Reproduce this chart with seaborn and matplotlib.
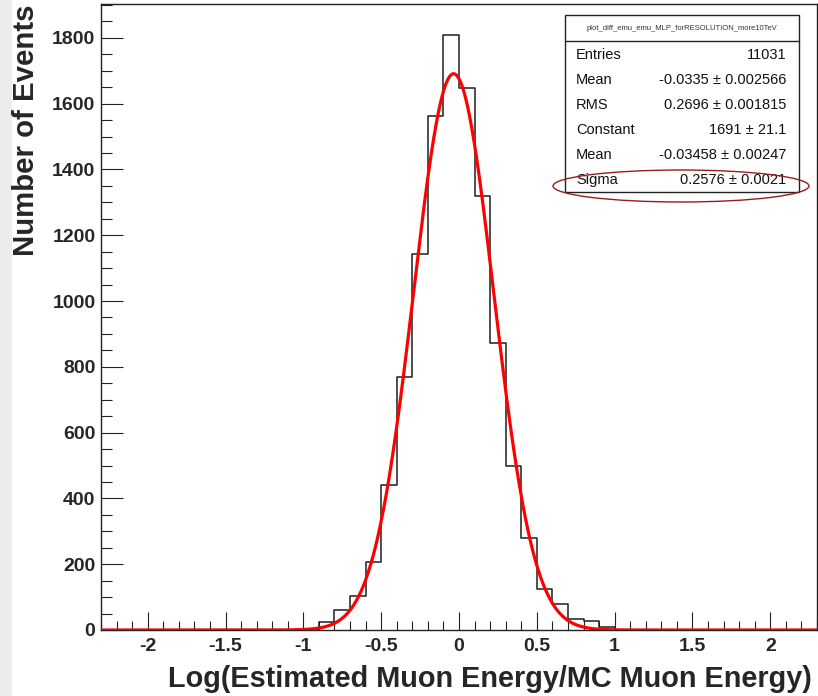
import numpy as np
import pandas as pd
import seaborn as sns
import matplotlib
matplotlib.use("Agg")
import matplotlib.pyplot as plt
from matplotlib.patches import Rectangle, Ellipse
from matplotlib.lines import Line2D
from matplotlib.ticker import MultipleLocator

# ---- histogram contents -------------------------------------------------
x_min, x_max = -2.3, 2.3
bin_width = 0.1
first_filled_edge = -1.0
counts = [4, 23, 61, 104, 207, 440, 770, 1142, 1562, 1810,
          1649, 1319, 873, 500, 280, 124, 79, 33, 28, 10]

# ---- Gaussian fit parameters -------------------------------------------
fit_constant = 1691.0
fit_mean = -0.03458
fit_sigma = 0.2576

# ---- statistics box -----------------------------------------------------
stats_title = "plot_diff_emu_emu_MLP_forRESOLUTION_more10TeV"
stats_names = ["Entries", "Mean", "RMS", "Constant", "Mean", "Sigma"]
stats_values = ["11031", "-0.0335 \u00b1 0.002566", "0.2696 \u00b1 0.001815",
                "1691 \u00b1 21.1", "-0.03458 \u00b1 0.00247", "0.2576 \u00b1 0.0021"]

# ---- axis ticks / labels ------------------------------------------------
x_ticks = [-2, -1.5, -1, -0.5, 0, 0.5, 1, 1.5, 2]
x_tick_labels = ["-2", "-1.5", "-1", "-0.5", "0", "0.5", "1", "1.5", "2"]
y_ticks = [0, 200, 400, 600, 800, 1000, 1200, 1400, 1600, 1800]
x_label = "Log(Estimated Muon Energy/MC Muon Energy)"
y_label = "Number of Events"
y_max = 1903

# ------------------------------------------------------------------------
sns.set_style("ticks")
plt.rcParams["font.family"] = ["Liberation Sans", "DejaVu Sans"]

W, H = 818, 696
fig = plt.figure(figsize=(W / 100, H / 100), dpi=100)
fig.patch.set_facecolor("white")

def fx(px):
    return px / W

def fy(py):
    return 1 - py / H

# light grey strip along the left edge of the canvas
fig.patches.append(Rectangle((0, 0), fx(12), 1, transform=fig.transFigure,
                             facecolor="#ececec", edgecolor="none", zorder=0))

ax_l, ax_r, ax_t, ax_b = 101, 817, 4, 630
ax = fig.add_axes([fx(ax_l), fy(ax_b), fx(ax_r) - fx(ax_l), fy(ax_t) - fy(ax_b)])

edges = np.round(np.arange(x_min, x_max + bin_width / 2, bin_width), 2)
centers = (edges[:-1] + edges[1:]) / 2
weights = np.zeros(len(centers))
start = int(round((first_filled_edge - x_min) / bin_width))
weights[start:start + len(counts)] = counts
hist_df = pd.DataFrame({"x": centers, "w": weights})

sns.histplot(data=hist_df, x="x", weights="w", bins=edges.tolist(), element="step",
             fill=False, color="#1e1e1e", linewidth=1.1, ax=ax)

xs = np.linspace(x_min, x_max, 1200)
ys = fit_constant * np.exp(-0.5 * ((xs - fit_mean) / fit_sigma) ** 2)
fit_df = pd.DataFrame({"x": xs, "y": ys})
sns.lineplot(data=fit_df, x="x", y="y", color="red", linewidth=2.3,
             estimator=None, sort=False, ax=ax, zorder=3)

ax.set_xlim(x_min, x_max)
ax.set_ylim(0, y_max)
ax.set_xticks(x_ticks)
ax.set_xticklabels(x_tick_labels)
ax.set_yticks(y_ticks)
ax.xaxis.set_minor_locator(MultipleLocator(0.1))
ax.yaxis.set_minor_locator(MultipleLocator(50))
ax.tick_params(axis="both", which="both", direction="in", color="#222222",
               width=0.8, labelsize=14)
ax.tick_params(axis="x", which="major", length=13, pad=6)
ax.tick_params(axis="x", which="minor", length=6.5)
ax.tick_params(axis="y", which="major", length=15.5, pad=4)
ax.tick_params(axis="y", which="minor", length=8)
for lab in ax.get_xticklabels() + ax.get_yticklabels():
    lab.set_fontweight("bold")
for side in ["left", "right", "top", "bottom"]:
    ax.spines[side].set_visible(True)
    ax.spines[side].set_color("#222222")
    ax.spines[side].set_linewidth(1.0)

ax.set_xlabel(x_label, fontsize=20.8, fontweight="bold", loc="right")
ax.xaxis.set_label_coords((812 - ax_l) / (ax_r - ax_l), -0.056)
ax.set_ylabel("")
fig.text(fx(26), fy(5), y_label, rotation=90, ha="center", va="top",
         fontsize=21.2, fontweight="bold")

# statistics box
bx0, bx1, by0, by1, byt = 565, 799, 15, 192, 41
fig.patches.append(Rectangle((fx(bx0), fy(by1)), fx(bx1) - fx(bx0), fy(by0) - fy(by1),
                             transform=fig.transFigure, facecolor="white",
                             edgecolor="#222222", linewidth=1.0, zorder=5))
fig.lines.append(Line2D([fx(bx0), fx(bx1)], [fy(byt), fy(byt)],
                        transform=fig.transFigure, color="#222222",
                        linewidth=1.0, zorder=6))
fig.text(fx((bx0 + bx1) / 2), fy((by0 + byt) / 2), stats_title, ha="center",
         va="center", fontsize=5.5, color="#333333", zorder=7)
row_h = (by1 - byt) / len(stats_names)
for i, (name, val) in enumerate(zip(stats_names, stats_values)):
    yc = byt + row_h * (i + 0.5) + 1
    fig.text(fx(576), fy(yc), name, ha="left", va="center", fontsize=10.5,
             color="#111111", zorder=7)
    fig.text(fx(786), fy(yc), val, ha="right", va="center", fontsize=10.5,
             color="#111111", zorder=7)

# highlight around the Sigma row
fig.patches.append(Ellipse((fx(681), fy(186)), fx(256), 32 / H,
                           transform=fig.transFigure, facecolor="none",
                           edgecolor="#9b1c1c", linewidth=1.0, zorder=8))

fig.savefig("out.png", dpi=100)
